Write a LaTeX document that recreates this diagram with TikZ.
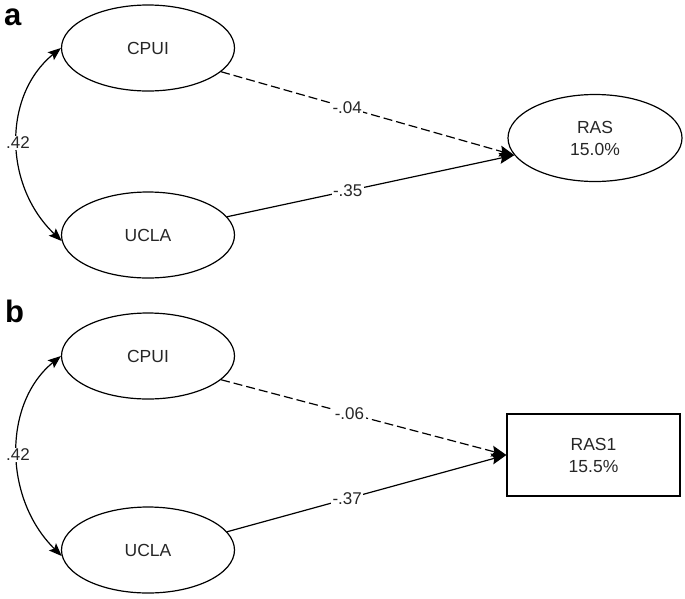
\documentclass[tikz,border=0pt]{standalone}
\usepackage{fontspec}
\setmainfont{Liberation Sans}
\usetikzlibrary{shapes.geometric,arrows.meta}
\begin{document}
\begin{tikzpicture}[x=1pt,y=-1pt,
  lat/.style={ellipse,draw,line width=1.2pt,minimum width=173pt,minimum height=86pt,inner sep=0pt,font=\fontsize{17.5}{22}\selectfont,align=center,text=black!85},
  obs/.style={rectangle,draw,line width=1.2pt,minimum width=173pt,minimum height=82pt,inner sep=0pt,font=\fontsize{17.5}{22}\selectfont,align=center,text=black!85},
  path/.style={line width=1.2pt,-{Stealth[length=15pt,width=11pt,inset=2.5pt]}},
  dpath/.style={path,dash pattern=on 9pt off 4pt},
  cov/.style={line width=1.2pt,{Stealth[length=13pt,width=10pt,inset=2.5pt]}-{Stealth[length=13pt,width=10pt,inset=2.5pt]}},
  lbl/.style={fill=white,inner sep=1.5pt,font=\fontsize{17}{19}\selectfont,text=black!85},
  panel/.style={font=\fontsize{31}{31}\selectfont\bfseries,inner sep=0pt}]
\useasboundingbox (0,0) rectangle (685,598);
% panel a
\node[panel,anchor=base west] (pa) at (4,25) {a};
\node[lat] (cpuiA) at (148,48) {CPUI};
\node[lat] (uclaA) at (148,235) {UCLA};
\node[lat,minimum width=174pt,minimum height=87pt] (ras) at (595,138) {RAS\\15.0\%};
\draw[dpath] (cpuiA.-18) -- node[lbl,pos=0.43] (l04) {-.04} (ras.192);
\draw[path] (uclaA.13) -- node[lbl,pos=0.42] (l35) {-.35} (ras.192);
\draw[cov] (cpuiA.west) .. controls (3,95) and (3,185) .. (uclaA.184);
\node[lbl] (l42a) at (18,143) {.42};
% panel b
\node[panel,anchor=base west] (pb) at (5,322) {b};
\node[lat] (cpuiB) at (148,356) {CPUI};
\node[lat] (uclaB) at (148,550) {UCLA};
\node[obs] (ras1) at (593.5,455) {RAS1\\15.5\%};
\draw[dpath] (cpuiB.-18) -- node[lbl,pos=0.45] (l06) {-.06} (ras1.west);
\draw[path] (uclaB.13) -- node[lbl,pos=0.43] (l37) {-.37} (ras1.west);
\draw[cov] (cpuiB.west) .. controls (3,403) and (3,498) .. (uclaB.184);
\node[lbl] (l42b) at (18,455) {.42};
\end{tikzpicture}
\end{document}
